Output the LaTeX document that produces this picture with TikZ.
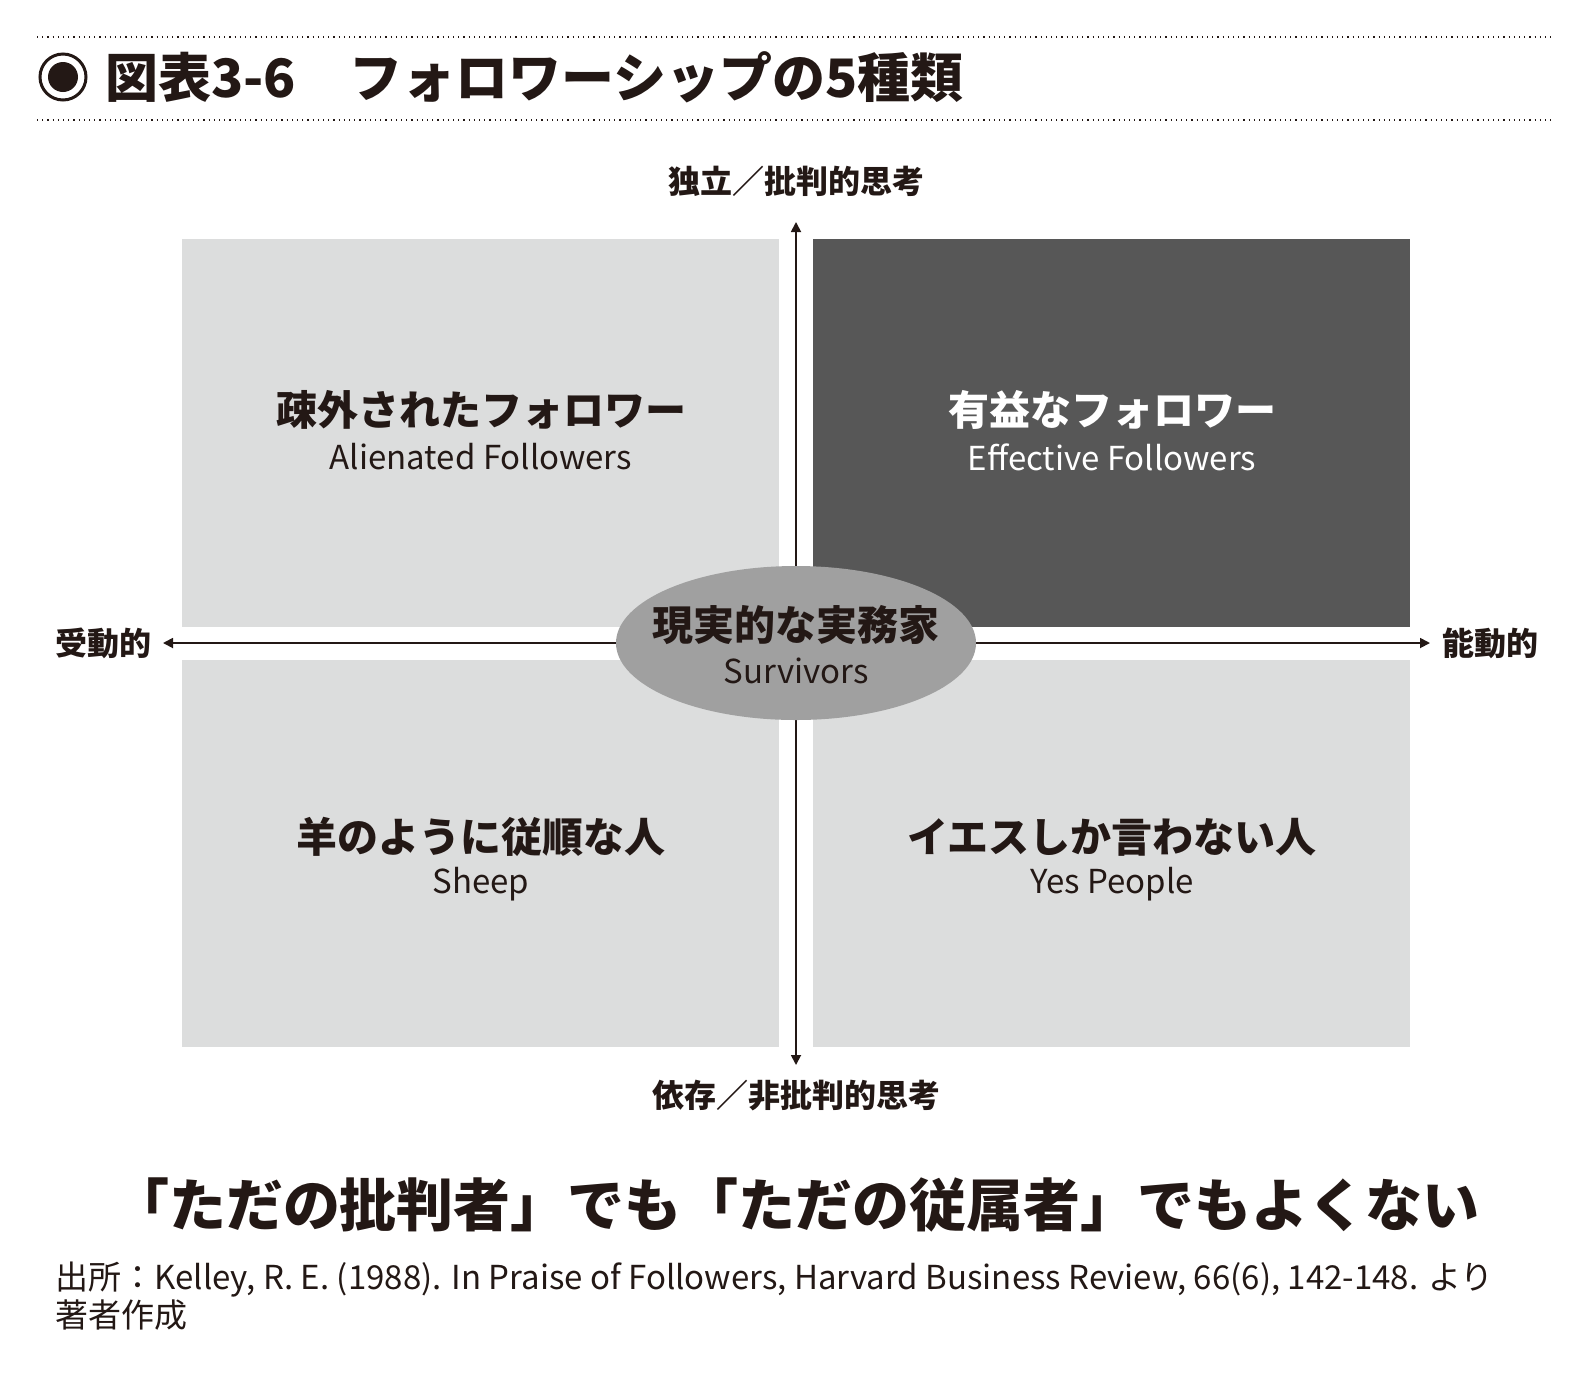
\documentclass[tikz,border=0pt]{standalone}
\usepackage{fontspec}
\setmainfont{Noto Sans CJK JP}
\usetikzlibrary{arrows.meta,shapes.geometric}
\definecolor{lightq}{HTML}{DCDDDD}
\definecolor{darkq}{HTML}{575757}
\definecolor{ellc}{HTML}{A0A0A0}
\definecolor{txt}{HTML}{231815}
\tikzset{
 jlab/.style={font=\fontsize{20.5}{20}\selectfont\bfseries,text=txt,inner sep=0},
 elab/.style={font=\fontsize{16.5}{16}\selectfont,text=txt,inner sep=0},
 axlab/.style={font=\fontsize{16}{16}\selectfont\bfseries,text=txt,inner sep=0},
 axis/.style={line width=0.9pt,draw=txt,-{Triangle[length=5pt,width=5pt]}},
 dotl/.style={line width=0.6pt,dotted,draw=txt}
}
\begin{document}
\begin{tikzpicture}[x=0.5pt,y=-0.5pt]
\useasboundingbox (0,0) rectangle (1585,1383);
\draw[dotl] (37,37) -- (1553,37);
\draw[dotl] (37,120) -- (1553,120);
\node[circle,draw=txt,line width=1.5pt,minimum size=23pt,inner sep=0] (bul) at (63,77) {};
\node[circle,fill=txt,minimum size=15pt,inner sep=0] (bulin) at (63,77) {};
\node[anchor=west,inner sep=0,font=\fontsize{26.5}{26}\selectfont\bfseries,text=txt] (title) at (105,77) {図表3-6\quad フォロワーシップの5種類};
\fill[lightq] (182,239) rectangle (779,627);
\fill[darkq] (813,239) rectangle (1410,627);
\fill[lightq] (182,660) rectangle (779,1047);
\fill[lightq] (813,660) rectangle (1410,1047);
\coordinate (vt) at (796,222); \coordinate (vb) at (796,1065);
\coordinate (hl) at (163,643); \coordinate (hr) at (1430,643);
\draw[axis] (796,643) -- (vt);
\draw[axis] (796,643) -- (vb);
\draw[axis] (796,643) -- (hl);
\draw[axis] (796,643) -- (hr);
\node[ellipse,fill=ellc,minimum width=180pt,minimum height=77pt,inner sep=0] (ell) at (796,643) {};
\node[jlab] (ej) at (796,625) {現実的な実務家};
\node[elab] (ee) at (796,671) {Survivors};
\node[axlab] (top) at (796,181) {独立／批判的思考};
\node[axlab] (bot) at (796,1096) {依存／非批判的思考};
\node[axlab] (lft) at (103,643) {受動的};
\node[axlab] (rgt) at (1490,643) {能動的};
\node[jlab] (tlj) at (481,410) {疎外されたフォロワー};
\node[elab] (tle) at (481,457) {Alienated Followers};
\node[jlab,text=white] (trj) at (1112,410) {有益なフォロワー};
\node[elab,text=white] (tre) at (1112,457) {Effective Followers};
\node[jlab] (blj) at (481,837) {羊のように従順な人};
\node[elab] (ble) at (481,884) {Sheep};
\node[jlab] (brj) at (1112,837) {イエスしか言わない人};
\node[elab] (bre) at (1112,884) {Yes People};
\node[inner sep=0,font=\fontsize{28.5}{28}\selectfont\bfseries,text=txt] (slog) at (796,1205) {「ただの批判者」でも「ただの従属者」でもよくない};
\node[anchor=north west,inner sep=0,align=left,font=\fontsize{16.5}{16}\selectfont,text=txt] (src) at (55,1262) {出所：Kelley, R. E. (1988). In Praise of Followers, Harvard Business Review, 66(6), 142-148. より\\著者作成};
\end{tikzpicture}
\end{document}
